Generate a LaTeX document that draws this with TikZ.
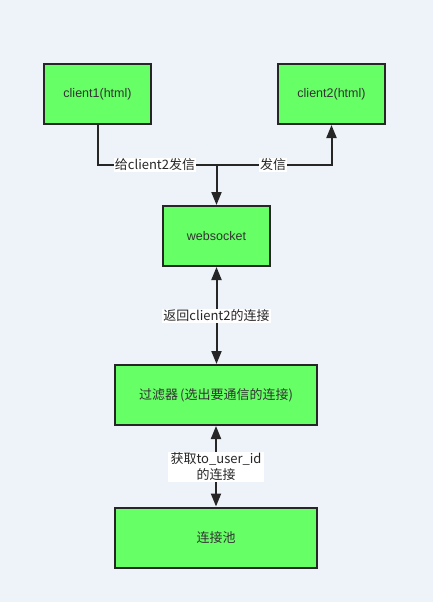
\documentclass[tikz,border=0pt]{standalone}
\usepackage{fontspec}
\setmainfont{Noto Sans CJK SC}
\newfontfamily\latinfont{Liberation Sans}
\usetikzlibrary{arrows.meta}
\definecolor{bgc}{HTML}{EEF3FA}
\definecolor{boxg}{HTML}{66FF66}
\definecolor{linec}{HTML}{262626}
\definecolor{txt}{HTML}{333333}
\begin{document}
\begin{tikzpicture}[x=1pt,y=-1pt,
  box/.style={draw=linec,line width=2pt,fill=boxg,minimum width=107pt,minimum height=60pt,inner sep=0pt,font=\fontsize{13}{15}\selectfont,text=txt},
  latbox/.style={box,font=\latinfont\fontsize{12.5}{15}\selectfont},
  widebox/.style={box,minimum width=202pt},
  conn/.style={draw=linec,line width=2pt},
  tip/.style={-{Triangle[length=13pt,width=10pt]}},
  dtip/.style={{Triangle[length=13pt,width=10pt]}-{Triangle[length=13pt,width=10pt]}},
  lbl/.style={fill=white,inner sep=1pt,font=\fontsize{13}{15}\selectfont,text=black!85,align=center}]
\fill[bgc] (0,0) rectangle (433,602);
\useasboundingbox (0,0) rectangle (433,602);
\node[latbox] (c1) at (97.5,94) {client1(html)};
\node[latbox] (c2) at (331.5,94) {client2(html)};
\node[latbox] (ws) at (216.5,236) {websocket};
\node[widebox] (flt) at (216,395) {过滤器\,(选出要通信的连接)};
\node[widebox] (pool) at (216,537.5) {连接池};
\coordinate (j) at (216.5,165);
\draw[conn] (c1.south) |- (j);
\draw[conn,tip] (j) -- (ws.north);
\draw[conn,tip] (j) -| (c2.south);
\node[lbl] (l1) at (155,165) {给client2发信};
\node[lbl] (l2) at (273,165) {发信};
\draw[conn,dtip] (ws.south) -- (ws.south |- flt.north);
\node[lbl] (l3) at (216.5,316) {返回client2的连接};
\draw[conn,dtip] (flt.south) -- (pool.north);
\node[lbl,inner xsep=3pt,inner ysep=1pt,font=\fontsize{13}{16}\selectfont] (l4) at (216,467) {获取to\_user\_id\\的连接};
\end{tikzpicture}
\end{document}
